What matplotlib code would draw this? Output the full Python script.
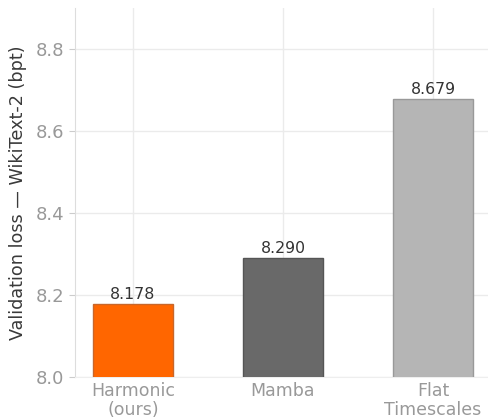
import matplotlib
matplotlib.use("Agg")
import matplotlib.pyplot as plt

labels = ["Harmonic\n(ours)", "Mamba", "Flat\nTimescales"]
values = [8.178, 8.290, 8.679]
colors = ["#ff6600", "#696969", "#b5b5b5"]
edges = ["#c8662a", "#555555", "#999999"]

fig = plt.figure(figsize=(4.89, 4.2), dpi=100)
ax = fig.add_axes([0.153, 0.102, 0.847, 0.879])

x = list(range(len(values)))
ax.bar(x, values, width=0.53, color=colors, edgecolor=edges, linewidth=1, zorder=3)
for xi, v in zip(x, values):
    ax.text(xi, v + 0.005, f"{v:.3f}", ha="center", va="bottom", fontsize=11.3, color="#333333", zorder=4)

ax.set_ylim(8.0, 8.9)
ax.set_xlim(-0.387, 2.373)
ax.set_yticks([8.0, 8.2, 8.4, 8.6, 8.8])
ax.set_xticks(x)
ax.set_xticklabels(labels)
ax.set_ylabel("Validation loss \u2014 WikiText-2 (bpt)", fontsize=12.7, color="#3a3a3a", labelpad=6)

ax.grid(True, color="#ebebeb", linewidth=1, zorder=0)
for s in ["top", "right"]:
    ax.spines[s].set_visible(False)
ax.spines["left"].set_color("#dddddd")
ax.spines["bottom"].set_color("#eeeeee")
ax.tick_params(axis="y", colors="#999999", labelsize=13, length=4, color="#cccccc")
ax.tick_params(axis="x", colors="#999999", labelsize=12.5, length=0, pad=3.5)
for t in ax.get_xticklabels():
    t.set_linespacing(1.05)

fig.savefig("out.png", dpi=100)
